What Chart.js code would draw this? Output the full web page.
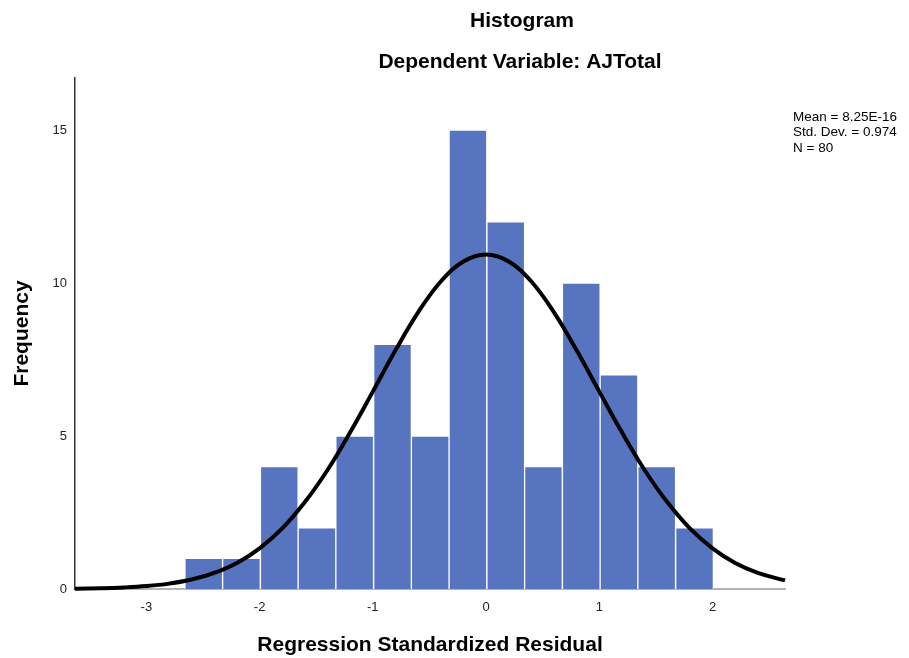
<!DOCTYPE html>
<html>
<head>
<meta charset="utf-8">
<title>Histogram</title>
<script src="https://cdn.jsdelivr.net/npm/chart.js@4/dist/chart.umd.min.js"></script>
<style>
    html, body { margin: 0; padding: 0; background: #fff; }
    #wrap { width: 909px; height: 658px; position: relative; }
</style>
</head>
<body>
<div id="wrap"><canvas id="hist"></canvas></div>
<script>
/* =========================================
   HISTOGRAM — Regression Standardized Residual
========================================= */

const titleLines = ["Histogram", "Dependent Variable: AJTotal"];
const statLines = ["Mean = 8.25E-16", "Std. Dev. = 0.974", "N = 80"];

// bin centres (width ~0.333) and counts
const binCenters = [-2.493, -2.160, -1.826, -1.493, -1.160, -0.826, -0.493,
                    -0.160, 0.174, 0.507, 0.841, 1.174, 1.507, 1.841];
const binCounts = [1, 1, 4, 2, 5, 8, 5, 15, 12, 4, 10, 7, 4, 2];

// normal curve
const curveX = [-3.63, -3.4, -3.2, -3.0, -2.8, -2.6, -2.4, -2.2, -2.0, -1.8, -1.6, -1.4,
                -1.2, -1.0, -0.8, -0.6, -0.4, -0.2, 0, 0.2, 0.4, 0.6, 0.8, 1.0, 1.2,
                1.4, 1.6, 1.8, 2.0, 2.2, 2.4, 2.64];
const curveY = [0.01, 0.025, 0.05, 0.095, 0.175, 0.31, 0.525, 0.85, 1.33, 1.98, 2.84, 3.89,
                5.12, 6.45, 7.80, 9.04, 10.05, 10.70, 10.93, 10.70, 10.05, 9.04, 7.80, 6.45, 5.12,
                3.89, 2.84, 1.98, 1.33, 0.85, 0.525, 0.28];

const xTicks = [-3, -2, -1, 0, 1, 2];
const yTicks = [0, 5, 10, 15];

const FONT = "'Liberation Sans', Arial, sans-serif";

/* Titles + stats box drawn as canvas text */
const textPlugin = {
    id: "textPlugin",
    afterDraw(chart) {
        const c = chart.ctx;
        c.save();
        c.fillStyle = "#000";
        c.textBaseline = "middle";
        c.textAlign = "center";
        c.font = "bold 21px " + FONT;
        c.fillText(titleLines[0], 522, 21);
        c.fillText(titleLines[1], 520, 62);

        c.textAlign = "left";
        c.font = "13.5px " + FONT;
        statLines.forEach((t, i) => c.fillText(t, 793, 117 + i * 15.5));
        c.restore();
    }
};

const chart = new Chart(document.getElementById("hist"), {
    type: "bar",
    data: {
        datasets: [
            {
                type: "line",
                data: curveX.map((x, i) => ({ x: x, y: curveY[i] })),
                borderColor: "#000",
                borderWidth: 4,
                pointRadius: 0,
                tension: 0.4,
                fill: false,
                clip: 6,
                order: 0
            },
            {
                type: "bar",
                data: binCenters.map((x, i) => ({ x: x, y: binCounts[i] })),
                backgroundColor: "#5674bf",
                borderColor: "rgba(255,255,255,0.85)",
                borderWidth: 1,
                barPercentage: 1,
                categoryPercentage: 1,
                grouped: false,
                order: 1
            }
        ]
    },
    options: {
        responsive: true,
        maintainAspectRatio: false,
        animation: false,
        devicePixelRatio: 1,
        layout: { padding: { top: 78, right: 124, left: 0, bottom: 0 } },
        plugins: {
            legend: { display: false },
            tooltip: { enabled: false },
            title: { display: false }
        },
        scales: {
            x: {
                type: "linear",
                offset: false,
                min: -3.63,
                max: 2.64,
                grid: { display: false, drawTicks: false, offset: false },
                border: { display: true, color: "#b4b4b4", width: 2 },
                afterFit: s => { s.height = 69; },
                afterBuildTicks: s => { s.ticks = xTicks.map(v => ({ value: v })); },
                ticks: {
                    padding: 11,
                    color: "#222",
                    font: { family: FONT, size: 13 }
                },
                title: {
                    display: true,
                    text: "Regression Standardized Residual",
                    color: "#000",
                    font: { family: FONT, size: 21, weight: "bold" },
                    padding: { top: 0, bottom: 0 }
                }
            },
            y: {
                min: 0,
                max: 16.7,
                grid: { display: false, drawTicks: false },
                border: { display: true, color: "#333", width: 1.5 },
                afterFit: s => { s.width = 75; },
                afterBuildTicks: s => { s.ticks = yTicks.map(v => ({ value: v })); },
                ticks: {
                    padding: 8,
                    color: "#222",
                    font: { family: FONT, size: 13 }
                },
                title: {
                    display: true,
                    text: "Frequency",
                    color: "#000",
                    font: { family: FONT, size: 21, weight: "bold" },
                    padding: { top: 10, bottom: 0 }
                }
            }
        }
    },
    plugins: [textPlugin]
});
</script>
</body>
</html>
